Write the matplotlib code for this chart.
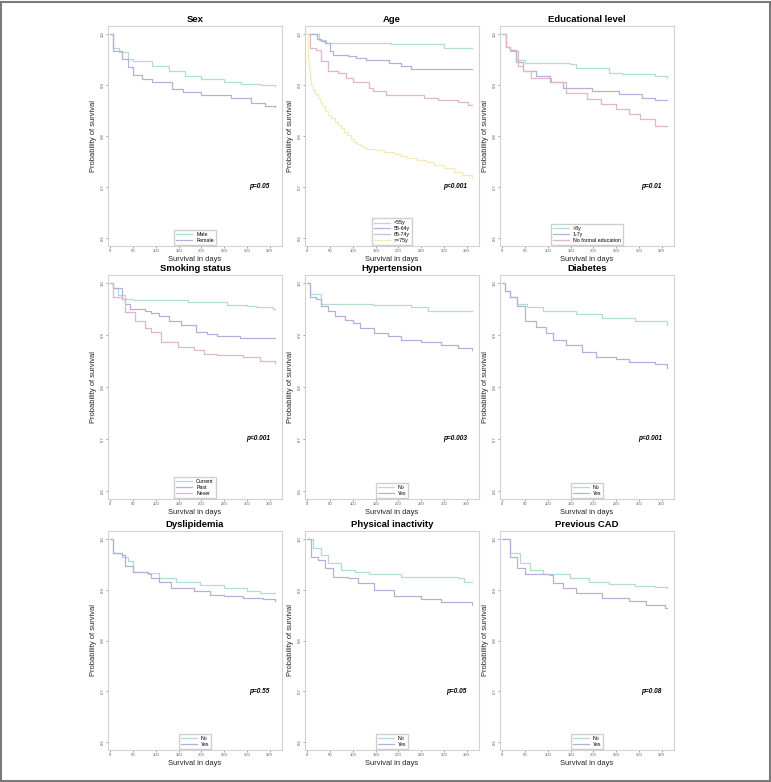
## Kaplan-Meier curves by risk factor (3x3 panels)
import matplotlib.pyplot as plt
from matplotlib.patches import Rectangle

plt.rcParams['font.family'] = ['Liberation Sans', 'DejaVu Sans']

# ---- data: (days, survival) step points ----
male_t = [0, 6, 20, 40, 50, 91, 130, 163, 200, 250, 287, 330, 362]
male_s = [1.0, 0.972, 0.965, 0.952, 0.947, 0.937, 0.927, 0.917, 0.911, 0.907, 0.903, 0.901, 0.899]
female_t = [0, 6, 26, 40, 50, 70, 91, 135, 160, 200, 265, 309, 340, 362]
female_s = [1.0, 0.966, 0.951, 0.935, 0.919, 0.912, 0.907, 0.892, 0.886, 0.880, 0.874, 0.864, 0.858, 0.856]

age55_t = [0, 26, 41, 184, 300, 362]
age55_s = [1.0, 0.988, 0.982, 0.980, 0.972, 0.972]
age64_t = [0, 22, 31, 38, 49, 56, 89, 107, 129, 180, 206, 228, 362]
age64_s = [1.0, 0.990, 0.986, 0.982, 0.966, 0.960, 0.958, 0.953, 0.950, 0.943, 0.937, 0.931, 0.931]
age74_t = [0, 5, 20, 31, 45, 67, 85, 100, 136, 144, 173, 257, 286, 330, 352, 362]
age74_s = [1.0, 0.972, 0.968, 0.948, 0.927, 0.924, 0.914, 0.907, 0.894, 0.888, 0.880, 0.874, 0.870, 0.866, 0.860, 0.860]
age75_t = [0, 1, 2, 3, 5, 8, 12, 17, 23, 28, 33, 39, 45, 52, 60, 67, 74, 81, 88, 95,
           103, 110, 118, 125, 132, 150, 169, 190, 205, 220, 240, 260, 278, 300, 322, 340, 362]
age75_s = [1.0, 0.975, 0.950, 0.932, 0.914, 0.900, 0.890, 0.882, 0.874, 0.866, 0.858, 0.850,
           0.842, 0.835, 0.828, 0.821, 0.815, 0.808, 0.802, 0.795, 0.789, 0.784, 0.780, 0.777,
           0.775, 0.772, 0.769, 0.764, 0.760, 0.756, 0.752, 0.748, 0.744, 0.737, 0.730, 0.724, 0.718]

edu8_t = [0, 8, 17, 30, 50, 148, 162, 234, 263, 336, 361]
edu8_s = [1.0, 0.975, 0.968, 0.950, 0.943, 0.941, 0.933, 0.923, 0.921, 0.917, 0.913]
edu17_t = [0, 8, 17, 30, 46, 75, 104, 133, 198, 256, 307, 336, 362]
edu17_s = [1.0, 0.975, 0.968, 0.945, 0.927, 0.917, 0.907, 0.894, 0.888, 0.882, 0.874, 0.870, 0.870]
edu0_t = [0, 8, 17, 35, 46, 64, 108, 140, 187, 216, 249, 278, 303, 336, 362]
edu0_s = [1.0, 0.975, 0.966, 0.937, 0.927, 0.914, 0.907, 0.884, 0.872, 0.862, 0.854, 0.844, 0.834, 0.819, 0.819]

cur_t = [0, 7, 18, 32, 50, 170, 256, 300, 321, 357, 362]
cur_s = [1.0, 0.990, 0.977, 0.970, 0.967, 0.964, 0.958, 0.957, 0.954, 0.950, 0.950]
past_t = [0, 7, 25, 32, 43, 76, 90, 108, 130, 155, 188, 213, 234, 285, 362]
past_s = [1.0, 0.990, 0.970, 0.960, 0.950, 0.947, 0.942, 0.937, 0.927, 0.920, 0.907, 0.902, 0.899, 0.895, 0.895]
never_t = [0, 7, 25, 32, 54, 76, 90, 112, 148, 184, 206, 234, 292, 328, 362]
never_s = [1.0, 0.973, 0.970, 0.944, 0.927, 0.914, 0.907, 0.887, 0.877, 0.871, 0.864, 0.861, 0.857, 0.851, 0.847]

htn_no_t = [0, 5, 31, 144, 228, 264, 362]
htn_no_s = [1.0, 0.980, 0.960, 0.958, 0.955, 0.947, 0.947]
htn_yes_t = [0, 5, 20, 31, 45, 60, 82, 100, 115, 147, 177, 206, 249, 293, 330, 362]
htn_yes_s = [1.0, 0.973, 0.970, 0.957, 0.947, 0.937, 0.930, 0.924, 0.914, 0.904, 0.899, 0.891, 0.886, 0.881, 0.876, 0.871]

dm_no_t = [0, 6, 17, 32, 54, 90, 162, 220, 292, 362]
dm_no_s = [1.0, 0.985, 0.973, 0.960, 0.954, 0.947, 0.940, 0.934, 0.927, 0.920]
dm_yes_t = [0, 6, 17, 32, 50, 75, 97, 111, 140, 176, 205, 249, 278, 336, 362]
dm_yes_s = [1.0, 0.985, 0.973, 0.957, 0.927, 0.916, 0.904, 0.891, 0.881, 0.867, 0.857, 0.854, 0.849, 0.845, 0.837]

dys_no_t = [0, 7, 25, 40, 50, 83, 108, 144, 198, 249, 300, 328, 362]
dys_no_s = [1.0, 0.972, 0.965, 0.956, 0.936, 0.933, 0.923, 0.916, 0.910, 0.903, 0.898, 0.894, 0.894]
dys_yes_t = [0, 7, 25, 32, 50, 83, 90, 108, 133, 184, 220, 249, 292, 336, 362]
dys_yes_s = [1.0, 0.972, 0.969, 0.946, 0.936, 0.931, 0.923, 0.916, 0.903, 0.897, 0.890, 0.887, 0.884, 0.881, 0.877]

pa_no_t = [0, 12, 31, 45, 74, 104, 136, 206, 330, 344, 362]
pa_no_s = [1.0, 0.982, 0.969, 0.952, 0.939, 0.935, 0.931, 0.926, 0.923, 0.916, 0.916]
pa_yes_t = [0, 9, 23, 38, 56, 89, 111, 147, 191, 249, 293, 362]
pa_yes_s = [1.0, 0.965, 0.959, 0.943, 0.926, 0.923, 0.913, 0.900, 0.887, 0.881, 0.875, 0.871]

cad_no_t = [0, 17, 39, 61, 90, 148, 191, 234, 292, 336, 362]
cad_no_s = [1.0, 0.972, 0.952, 0.939, 0.931, 0.923, 0.916, 0.911, 0.907, 0.905, 0.903]
cad_yes_t = [0, 17, 32, 50, 104, 111, 133, 162, 220, 278, 315, 358, 362]
cad_yes_s = [1.0, 0.965, 0.943, 0.931, 0.930, 0.913, 0.903, 0.894, 0.884, 0.877, 0.871, 0.864, 0.864]

titles = ['Sex', 'Age', 'Educational level',
          'Smoking status', 'Hypertension', 'Diabetes',
          'Dyslipidemia', 'Physical inactivity', 'Previous CAD']
pvalues = ['p=0.05', 'p<0.001', 'p=0.01',
           'p<0.001', 'p=0.003', 'p<0.001',
           'p=0.55', 'p=0.05', 'p=0.08']
legends = [['Male', 'Female'],
           ['<55y', '55-64y', '65-74y', '>=75y'],
           ['>8y', '1-7y', 'No formal education'],
           ['Current', 'Past', 'Never'],
           ['No', 'Yes'], ['No', 'Yes'], ['No', 'Yes'], ['No', 'Yes'], ['No', 'Yes']]
curves = [[(male_t, male_s), (female_t, female_s)],
          [(age55_t, age55_s), (age64_t, age64_s), (age74_t, age74_s), (age75_t, age75_s)],
          [(edu8_t, edu8_s), (edu17_t, edu17_s), (edu0_t, edu0_s)],
          [(cur_t, cur_s), (past_t, past_s), (never_t, never_s)],
          [(htn_no_t, htn_no_s), (htn_yes_t, htn_yes_s)],
          [(dm_no_t, dm_no_s), (dm_yes_t, dm_yes_s)],
          [(dys_no_t, dys_no_s), (dys_yes_t, dys_yes_s)],
          [(pa_no_t, pa_no_s), (pa_yes_t, pa_yes_s)],
          [(cad_no_t, cad_no_s), (cad_yes_t, cad_yes_s)]]

colors = ['#b3dcd4', '#b3b1da', '#e0b6ca', '#f5e9bb']

W, H = 771, 782
fig = plt.figure(figsize=(W / 100, H / 100), dpi=100)

col_left = [108, 305, 500]
row_top = [26, 275, 531]
row_h = [220, 224, 219]
ax_w = 174

for i in range(9):
    r, c = divmod(i, 3)
    ax = fig.add_axes([col_left[c] / W, 1 - (row_top[r] + row_h[r]) / H,
                       ax_w / W, row_h[r] / H])
    handles = []
    for k, (t, s) in enumerate(curves[i]):
        h, = ax.plot(t, s, drawstyle='steps-post', color=colors[k], lw=0.9)
        handles.append(h)
    ax.set_xlim(-5, 377)
    ax.set_ylim(0.584, 1.016)
    ax.set_xticks(range(0, 351, 50))
    ax.set_yticks([0.6, 0.7, 0.8, 0.9, 1.0])
    ax.set_yticklabels(['0.6', '0.7', '0.8', '0.9', '1.0'])
    ax.tick_params(axis='both', labelsize=3, length=1.2, width=0.4,
                   pad=1, colors='#555555')
    ax.tick_params(axis='y', labelrotation=90)
    for lab in ax.get_yticklabels():
        lab.set_va('center')
    for sp in ax.spines.values():
        sp.set_color('#d2d2d2')
        sp.set_linewidth(0.8)
    ax.set_title(titles[i], fontsize=6.8, fontweight='bold', pad=3)
    ax.set_xlabel('Survival in days', fontsize=5.4, labelpad=2, color='#222222')
    ax.set_ylabel('Probability of survival', fontsize=5.4, labelpad=3, color='#222222')
    ax.text(350, 0.7, pvalues[i], ha='right', va='center', fontsize=4.7,
            fontweight='bold', fontstyle='italic')
    ax.legend(handles, legends[i], loc='lower center', fontsize=3.8,
              handlelength=3, frameon=True, fancybox=False, edgecolor='#c4c4c4',
              borderaxespad=0.2, labelspacing=0.15, borderpad=0.4)

# outer frame around the whole figure
fig.patches.append(Rectangle((0.001, 0.001), 0.998, 0.997, transform=fig.transFigure,
                             fill=False, edgecolor='#7a7a7a', lw=1.5))

plt.savefig('out.png', dpi=100)
